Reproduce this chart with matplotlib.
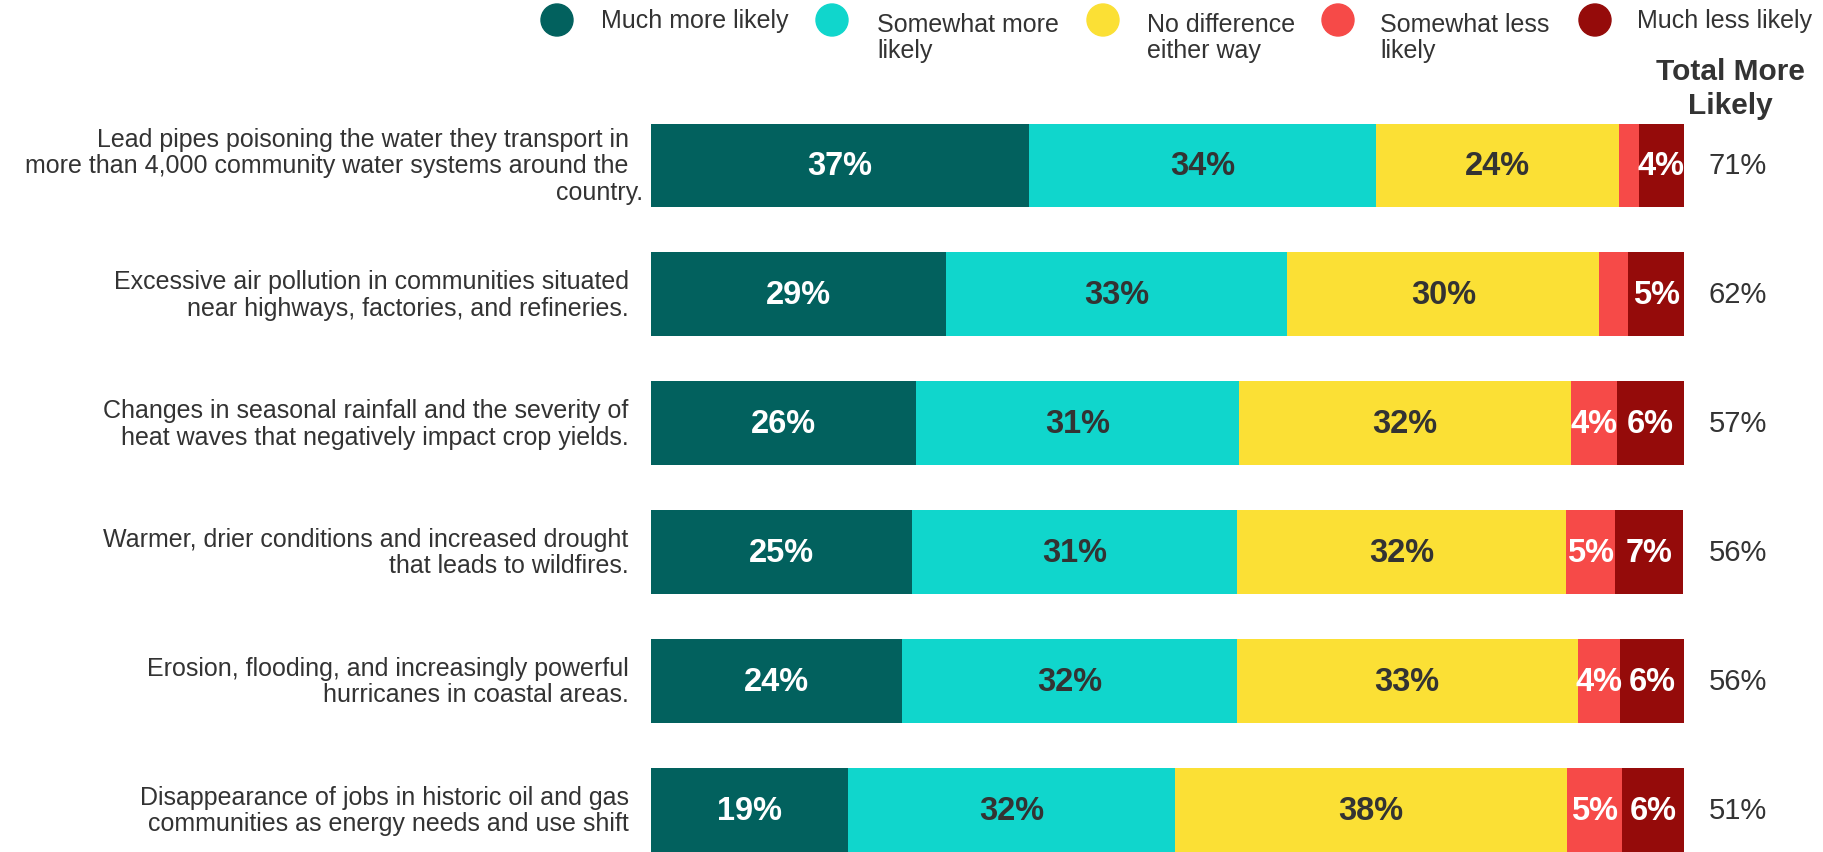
import numpy as np
import matplotlib.pyplot as plt
from matplotlib.patches import Ellipse

plt.rcParams['font.family'] = ['Liberation Sans', 'DejaVu Sans']

# survey items (top to bottom)
items = [
    "Lead pipes poisoning the water they transport in\nmore than 4,000 community water systems around the \ncountry.",
    "Excessive air pollution in communities situated\nnear highways, factories, and refineries.",
    "Changes in seasonal rainfall and the severity of\nheat waves that negatively impact crop yields.",
    "Warmer, drier conditions and increased drought\nthat leads to wildfires.",
    "Erosion, flooding, and increasingly powerful\nhurricanes in coastal areas.",
    "Disappearance of jobs in historic oil and gas\ncommunities as energy needs and use shift",
]

categories = ["Much more likely", "Somewhat more\nlikely", "No difference\neither way",
              "Somewhat less\nlikely", "Much less likely"]

much_more = [36.6, 28.6, 25.7, 25.3, 24.3, 19.1]
somewhat_more = [33.6, 33.0, 31.2, 31.4, 32.4, 31.6]
no_diff = [23.5, 30.2, 32.2, 31.9, 33.0, 38.0]
somewhat_less = [1.9, 2.8, 4.4, 4.7, 4.1, 5.3]
much_less = [4.4, 5.4, 6.5, 6.6, 6.2, 6.0]

total_more = [71, 62, 57, 56, 56, 51]

colors = ["#02615e", "#10d6cc", "#fbe035", "#f64a48", "#950b0a"]
label_colors = ["white", "#333333", "#333333", "white", "white"]
text_col = "#333333"

series = [much_more, somewhat_more, no_diff, somewhat_less, much_less]

W, H = 1824, 853
fig = plt.figure(figsize=(W / 100, H / 100), dpi=100)
ax = fig.add_axes([651 / W, 0.0, (1684 - 651) / W, (H - 124.5) / H])

y = np.arange(len(items))
left = np.zeros(len(items))
for vals, c, lc in zip(series, colors, label_colors):
    vals = np.array(vals)
    ax.barh(y, vals, left=left, height=0.65, color=c)
    for yi, l, v in zip(y, left, vals):
        if v >= 3.5:
            ax.text(l + v / 2, yi, f"{round(v)}%", ha="center", va="center",
                    color=lc, fontsize=23.5, fontweight="bold")
    left = left + vals

ax.set_xlim(0, 100)
ax.set_ylim(len(items) - 1 + 0.325, -0.325)
ax.axis("off")

# row labels - lines other than the last word of a wrap sit a bit left
for yi, t in zip(y, items):
    lines = t.split("\n")
    padded = "\n".join(ln if ln == "country." else ln.rstrip() + "  " for ln in lines)
    ax.text(-0.8, yi, padded, ha="right", va="center", fontsize=18, color=text_col,
            linespacing=1.13)

# total more likely column
for yi, t in zip(y, total_more):
    ax.text(105.2, yi, f"{t}%", ha="center", va="center", fontsize=21, color=text_col)

fig.text(1730 / W, 1 - 89 / H, "Total More\nLikely", ha="center", va="center",
         fontsize=21.5, fontweight="bold", color=text_col, linespacing=1.28)

# legend
circle_x = [557, 832, 1103, 1338, 1595]
text_x = [601, 877, 1147, 1380, 1637]
for cx, tx, c, lab in zip(circle_x, text_x, colors, categories):
    fig.patches.append(Ellipse((cx / W, 1 - 21 / H), 32 / W, 32 / H,
                               transform=fig.transFigure, color=c))
    if "\n" in lab:
        fig.text(tx / W, 1 - 13 / H, lab, ha="left", va="top", fontsize=18,
                 color=text_col, linespacing=1.09)
    else:
        fig.text(tx / W, 1 - 21 / H, lab, ha="left", va="center", fontsize=18,
                 color=text_col)

fig.savefig("out.png", dpi=100, facecolor="white")
